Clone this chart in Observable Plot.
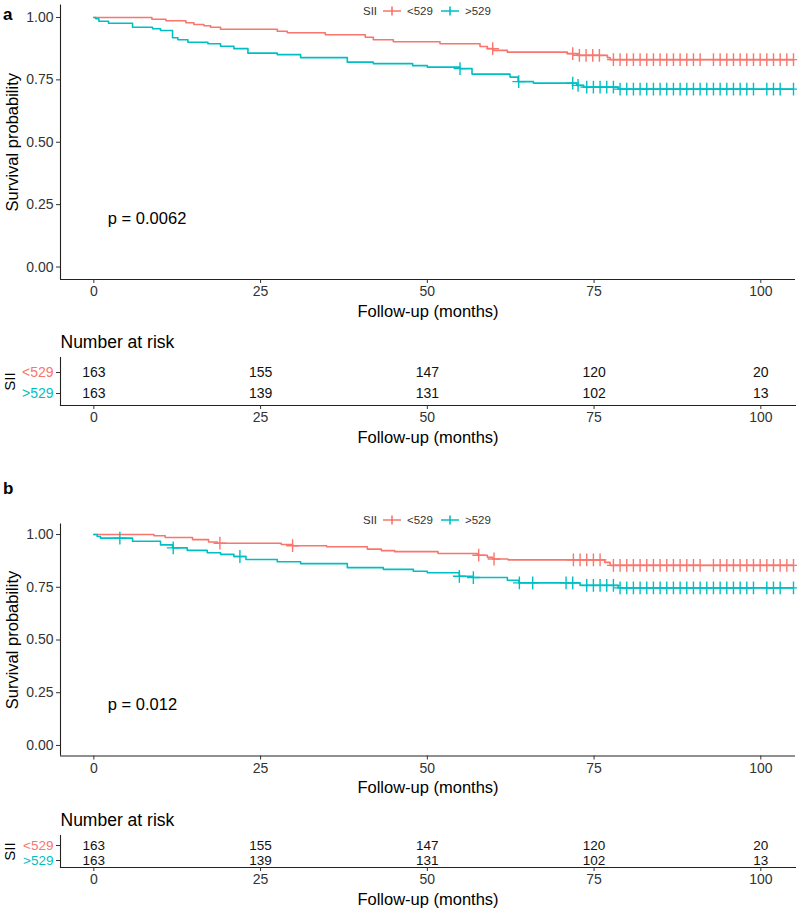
<!DOCTYPE html>
<html><head><meta charset="utf-8">
<script src="https://cdn.jsdelivr.net/npm/d3@7"></script>
<script src="https://cdn.jsdelivr.net/npm/@observablehq/plot@0.6"></script>
<style>
body{margin:0;background:#fff;}
#root{position:relative;width:797px;height:912px;font-family:"Liberation Sans",Arial,sans-serif;background:#fff;overflow:hidden}
.abs{position:absolute;white-space:nowrap}
svg{overflow:visible}
</style></head><body><div id="root"></div>
<script>
const FONT = '"Liberation Sans", Arial, sans-serif';
const groups = ["<529", ">529"];
const colors = ["#F8766D", "#00BFC4"];
const xTicks = [0, 25, 50, 75, 100];
const yTicks = [0, 0.25, 0.5, 0.75, 1];
const legendTitle = "SII";

// Panel a — Kaplan–Meier steps (months, survival) and censor times
const aLowTimes = [0, 8.7, 10.8, 13.8, 15.0, 16.5, 17.5, 19.0, 27.5, 29.0, 34.7, 40.7, 41.9, 44.9, 51.9, 57.9, 59.0, 59.9, 62.0, 71.0, 72.5, 77.0, 77.4];
const aLowSurv  = [1, 0.993, 0.987, 0.979, 0.972, 0.967, 0.961, 0.953, 0.945, 0.939, 0.931, 0.921, 0.911, 0.903, 0.895, 0.884, 0.875, 0.868, 0.861, 0.855, 0.848, 0.839, 0.831];
const aLowCens  = [59.8, 71.8, 72.8, 73.8, 74.8, 75.8, 77.9, 78.9, 79.9, 80.9, 81.9, 82.9, 83.9, 84.9, 85.9, 86.9, 87.9, 88.9, 89.9, 90.9, 92.9, 93.9, 94.9, 95.9, 96.9, 97.9, 98.9, 99.9, 100.9, 101.9, 102.9, 103.9, 104.9];
const aHighTimes = [0, 0.3, 0.75, 2.2, 5.8, 8.8, 10.0, 11.8, 12.6, 14.1, 17.1, 19.0, 21.0, 23.1, 27.5, 31.0, 38.0, 41.9, 47.8, 50.0, 54.9, 56.7, 62.4, 63.6, 65.9, 72.4, 73.4, 78.6];
const aHighSurv  = [1, 0.995, 0.985, 0.977, 0.961, 0.955, 0.948, 0.919, 0.911, 0.901, 0.895, 0.885, 0.875, 0.857, 0.851, 0.839, 0.821, 0.815, 0.807, 0.801, 0.795, 0.773, 0.761, 0.743, 0.737, 0.728, 0.721, 0.713];
const aHighCens  = [54.9, 63.7, 71.8, 72.6, 73.9, 74.9, 75.9, 76.9, 77.9, 78.9, 79.9, 80.9, 81.9, 82.9, 83.9, 84.9, 85.9, 86.9, 87.9, 88.9, 89.9, 90.9, 91.9, 92.9, 93.9, 94.9, 95.9, 96.9, 97.9, 98.9, 100.9, 101.9, 102.9, 104.9];
const aPval = "p = 0.0062";

// Panel b
const bLowTimes = [0, 9.0, 10.7, 14.8, 17.2, 18.5, 28.1, 29.8, 34.9, 41.0, 43.1, 45.1, 51.6, 57.5, 59.0, 59.8, 62.1, 76.6, 77.4];
const bLowSurv  = [1, 0.994, 0.986, 0.976, 0.965, 0.959, 0.953, 0.947, 0.942, 0.931, 0.924, 0.919, 0.910, 0.902, 0.892, 0.884, 0.880, 0.868, 0.854];
const bLowCens  = [18.9, 29.8, 57.7, 60.0, 71.9, 72.9, 73.9, 74.9, 75.9, 77.9, 78.9, 79.9, 80.9, 81.9, 82.9, 83.9, 84.9, 85.9, 86.9, 87.9, 88.9, 89.9, 90.9, 92.9, 93.9, 94.9, 95.9, 96.9, 97.9, 98.9, 99.9, 100.9, 101.9, 102.9, 103.9, 104.9];
const bHighTimes = [0, 0.5, 1.0, 5.8, 10.0, 11.8, 14.0, 17.0, 19.0, 21.0, 22.8, 27.5, 31.0, 38.0, 43.4, 47.9, 50.0, 54.8, 56.8, 62.0, 63.7, 72.9, 78.6];
const bHighSurv  = [1, 0.991, 0.983, 0.968, 0.951, 0.937, 0.925, 0.914, 0.906, 0.896, 0.882, 0.871, 0.862, 0.843, 0.835, 0.826, 0.819, 0.802, 0.796, 0.783, 0.771, 0.759, 0.747];
const bHighCens  = [3.9, 11.9, 21.9, 54.8, 56.9, 63.8, 65.8, 70.8, 71.8, 73.9, 74.9, 75.9, 76.9, 77.9, 78.9, 79.9, 80.9, 81.9, 82.9, 83.9, 84.9, 85.9, 86.9, 87.9, 88.9, 89.9, 90.9, 91.9, 92.9, 93.9, 94.9, 95.9, 96.9, 97.9, 98.9, 100.9, 101.9, 102.9, 104.9];
const bPval = "p = 0.012";

// Number at risk
const riskTimes = [0, 25, 50, 75, 100];
const riskLow  = [163, 155, 147, 120, 20];
const riskHigh = [163, 139, 131, 102, 13];

const pLabelX = 2.1, pLabelY = 0.195;
const root = document.getElementById("root");

function survAt(times, surv, t) {
  let v = surv[0];
  for (let i = 0; i < times.length; i++) if (times[i] <= t) v = surv[i];
  return v;
}

function place(el, top, left) {
  el.style.position = "absolute";
  el.style.top = top + "px";
  el.style.left = (left || 0) + "px";
  root.appendChild(el);
}

function kmPlot(curves, pval, frameH) {
  const marginTop = 4.5, marginBottom = 46;
  const lines = [], cens = [];
  curves.forEach((c, gi) => {
    c.times.forEach((t, i) => lines.push({g: groups[gi], t, s: c.surv[i]}));
    lines.push({g: groups[gi], t: d3.max(c.cens), s: c.surv[c.surv.length - 1]});
    c.cens.forEach(t => cens.push({g: groups[gi], t, s: survAt(c.times, c.surv, t)}));
  });
  return Plot.plot({
    width: 797, height: frameH + marginTop + marginBottom,
    marginLeft: 60, marginRight: 2, marginTop, marginBottom,
    style: {fontFamily: FONT, background: "transparent", overflow: "visible", color: "#000"},
    x: {domain: [-5, 105.2]},
    y: {domain: [-0.05, 1.05]},
    color: {domain: groups, range: colors},
    marks: [
      Plot.ruleX([-5], {stroke: "#222", strokeWidth: 1.1}),
      Plot.ruleY([-0.05], {stroke: "#222", strokeWidth: 1.1}),
      Plot.axisX({ticks: xTicks, tickSize: 4, tickPadding: 3, fontSize: 14, fill: "#333", stroke: "#333", label: null}),
      Plot.axisY({ticks: yTicks, tickFormat: d3.format(".2f"), tickSize: 4, tickPadding: 3, fontSize: 14, fill: "#333", stroke: "#333", label: null}),
      Plot.line(lines, {x: "t", y: "s", z: "g", stroke: "g", curve: "step-after", strokeWidth: 1.6}),
      Plot.dot(cens, {x: "t", y: "s", stroke: "g", symbol: "plus", r: 4.2, strokeWidth: 1.4}),
      Plot.text([pval], {x: pLabelX, y: pLabelY, textAnchor: "start", fontSize: 16.5, fill: "#000"}),
      Plot.text(["Survival probability"], {frameAnchor: "left", textAnchor: "middle", lineAnchor: "middle", dx: -48, rotate: -90, fontSize: 16.5, fill: "#000"}),
      Plot.text(["Follow-up (months)"], {frameAnchor: "bottom", textAnchor: "middle", lineAnchor: "middle", dy: 32, fontSize: 16.5, fill: "#000"})
    ]
  });
}

function riskTable(frameTop, frameH, rowRange, numSize) {
  const marginBottom = 45;
  const rows = [];
  riskTimes.forEach((t, i) => {
    rows.push({g: groups[0], t, n: riskLow[i]});
    rows.push({g: groups[1], t, n: riskHigh[i]});
  });
  return Plot.plot({
    width: 797, height: frameTop + frameH + marginBottom,
    marginLeft: 60, marginRight: 2, marginTop: frameTop, marginBottom,
    style: {fontFamily: FONT, background: "transparent", overflow: "visible", color: "#000"},
    x: {domain: [-5, 105.2]},
    y: {type: "point", domain: groups, range: rowRange, padding: 0},
    color: {domain: groups, range: colors},
    marks: [
      Plot.frame({anchor: "left", stroke: "#222", strokeWidth: 1.1}),
      Plot.frame({anchor: "bottom", stroke: "#222", strokeWidth: 1.1}),
      Plot.axisX({ticks: xTicks, tickSize: 4, tickPadding: 3, fontSize: 14, fill: "#333", stroke: "#333", label: null}),
      Plot.axisY({tickSize: 4, tickFormat: () => "", stroke: "#333", label: null}),
      Plot.text(groups, {y: d => d, frameAnchor: "left", dx: -7, textAnchor: "end", fill: d => d, fontSize: numSize}),
      Plot.text(rows, {x: "t", y: "g", text: "n", fontSize: numSize, fill: "#111"}),
      Plot.text(["Number at risk"], {frameAnchor: "top-left", dy: -15, textAnchor: "start", lineAnchor: "middle", fontSize: 17.5, fill: "#000"}),
      Plot.text([legendTitle], {frameAnchor: "left", textAnchor: "middle", lineAnchor: "middle", dx: -50, rotate: -90, fontSize: 15, fill: "#000"}),
      Plot.text(["Follow-up (months)"], {frameAnchor: "bottom", textAnchor: "middle", lineAnchor: "middle", dy: 32, fontSize: 16.5, fill: "#000"})
    ]
  });
}

function legend(top) {
  const mk = (txt, left, size) => {
    const s = document.createElement("div");
    s.className = "abs";
    s.textContent = txt;
    s.style.fontSize = size + "px";
    s.style.lineHeight = "14px";
    s.style.color = "#333";
    place(s, top - 7, left);
  };
  const icon = (col, left) => {
    const ns = "http://www.w3.org/2000/svg";
    const svg = document.createElementNS(ns, "svg");
    svg.setAttribute("width", 18); svg.setAttribute("height", 12);
    svg.innerHTML = `<path d="M0,6H18M9,1.5V10.5" stroke="${col}" stroke-width="1.6" fill="none"/>`;
    svg.style.position = "absolute";
    svg.style.top = (top - 6) + "px";
    svg.style.left = left + "px";
    root.appendChild(svg);
  };
  mk(legendTitle, 363, 11.5);
  icon(colors[0], 383);
  mk(groups[0], 407, 11.5);
  icon(colors[1], 441);
  mk(groups[1], 465, 11.5);
}

function panelLetter(txt, top) {
  const d = document.createElement("div");
  d.className = "abs";
  d.textContent = txt;
  d.style.fontSize = "17px";
  d.style.fontWeight = "bold";
  d.style.lineHeight = "18px";
  d.style.zIndex = "5";
  place(d, top - 10, 3);
}

// Panel a
place(kmPlot([
  {times: aLowTimes, surv: aLowSurv, cens: aLowCens},
  {times: aHighTimes, surv: aHighSurv, cens: aHighCens}
], aPval, 274.5), 0);
place(riskTable(32, 48, [47, 68], 14), 325);
legend(10.5);
panelLetter("a", 16);

// Panel b
place(kmPlot([
  {times: bLowTimes, surv: bLowSurv, cens: bLowCens},
  {times: bHighTimes, surv: bHighSurv, cens: bHighCens}
], bPval, 232), 519);
place(riskTable(35, 32, [45, 60.5], 13.5), 800);
legend(519.5);
panelLetter("b", 490);
</script></body></html>
